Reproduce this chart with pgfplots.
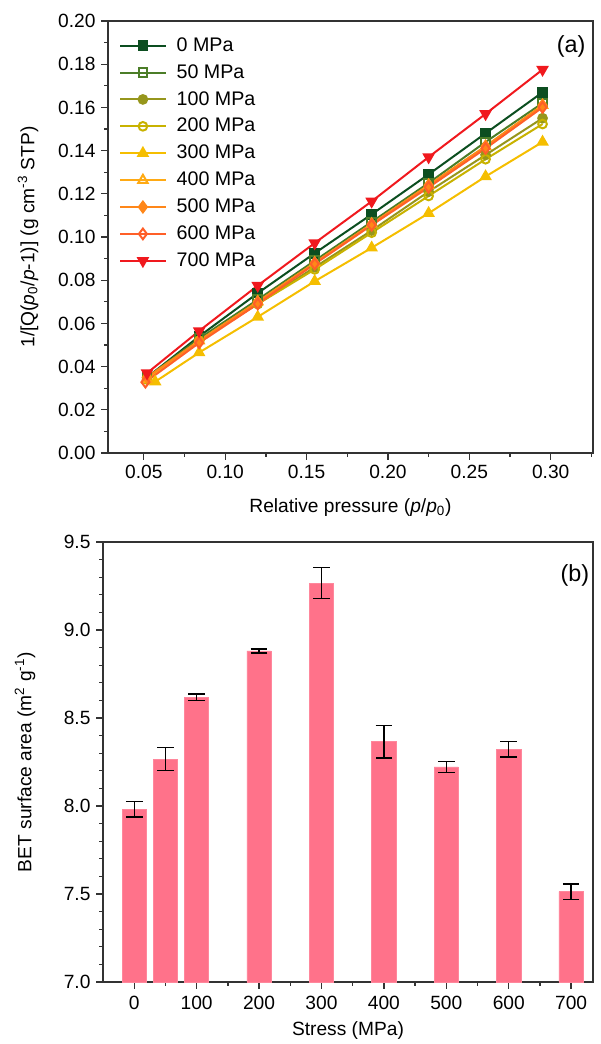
\documentclass[border=0pt]{standalone}
\usepackage{pgfplots}
\pgfplotsset{compat=1.18}
\usepackage{fontspec}
\setmainfont{Liberation Sans}

\definecolor{c0}{RGB}{12,78,32}
\definecolor{c50}{RGB}{75,125,40}
\definecolor{c100}{RGB}{150,150,28}
\definecolor{c200}{RGB}{200,178,0}
\definecolor{c300}{RGB}{245,190,0}
\definecolor{c400}{RGB}{255,170,20}
\definecolor{c500}{RGB}{255,135,25}
\definecolor{c600}{RGB}{255,95,40}
\definecolor{c700}{RGB}{240,25,30}
\definecolor{barpink}{RGB}{255,114,138}

\pgfplotsset{
  panel/.style={
    scale only axis,
    axis line style={line width=0.8pt, black!80},
    tick style={black!80, line width=0.8pt},
    tick align=outside,
    tick pos=left,
    major tick length=4pt,
    minor tick length=2.2pt,
    /pgf/number format/assume math mode=true,
    tick label style={font=\fontsize{11.5}{13}\selectfont},
    label style={font=\fontsize{11.5}{13}\selectfont},
  },
  ser/.style={line width=1.2pt, mark size=2.6pt, mark options={solid}},
}

\begin{document}
\begin{tikzpicture}
  \useasboundingbox (0,0) rectangle (360.6pt,-626.4pt);
  \clip (0,0) rectangle (360.6pt,-626.4pt);

  % (a) BET plots
  \begin{axis}[
      panel,
      at={(64.8pt,-271.8pt)}, anchor=south west,
      width=291pt, height=259.2pt,
      xmin=0.028, xmax=0.326,
      ymin=0, ymax=0.20,
      xtick={0.05,0.10,...,0.30},
      minor xtick={0.025,0.075,...,0.325},
      ytick={0,0.02,...,0.201},
      minor ytick={0.01,0.03,...,0.19},
      xticklabel style={/pgf/number format/.cd, fixed, fixed zerofill, precision=2},
      yticklabel style={/pgf/number format/.cd, fixed, fixed zerofill, precision=2},
      xlabel={Relative pressure (\textit{p}/\textit{p}\textsubscript{0})},
      ylabel={1/[Q(\textit{p}\textsubscript{0}/\textit{p}-1)] (g cm\textsuperscript{-3} STP)},
      xlabel style={at={(axis description cs:0.5,-0.127)}, anchor=center},
      ylabel style={at={(axis description cs:-0.165,0.5)}, anchor=center},
      legend style={at={(0.012,0.978)}, anchor=north west, draw=none, fill=none,
        font=\fontsize{11.8}{12.5}\selectfont, row sep=2.4pt,
        /tikz/every odd column/.append style={column sep=4pt}},
      legend cell align=left,
      legend image code/.code={%
        \draw[mark repeat=2,mark phase=2,#1] plot coordinates {(0cm,0cm) (0.48cm,0cm) (0.96cm,0cm)};},
    ]
    \addplot[ser, color=c0, mark=square*] coordinates {
      (0.052,0.035) (0.084,0.054) (0.120,0.074) (0.155,0.0925) (0.190,0.1105) (0.225,0.129) (0.260,0.148) (0.295,0.167)};
    \addplot[ser, color=c50, mark=square, mark options={fill=white}] coordinates {
      (0.052,0.035) (0.084,0.053) (0.120,0.071) (0.155,0.089) (0.190,0.107) (0.225,0.125) (0.260,0.144) (0.295,0.162)};
    \addplot[ser, color=c100, mark=*] coordinates {
      (0.052,0.035) (0.084,0.052) (0.120,0.069) (0.155,0.086) (0.190,0.103) (0.225,0.121) (0.260,0.138) (0.295,0.155)};
    \addplot[ser, color=c200, mark=o, mark options={fill=white}] coordinates {
      (0.052,0.034) (0.084,0.052) (0.120,0.069) (0.155,0.085) (0.190,0.102) (0.225,0.119) (0.260,0.136) (0.295,0.1523)};
    \addplot[ser, color=c300, mark=triangle*, mark size=3.2pt] coordinates {
      (0.057,0.033) (0.084,0.0465) (0.120,0.063) (0.155,0.0795) (0.190,0.095) (0.225,0.111) (0.260,0.128) (0.295,0.144)};
    \addplot[ser, color=c400, mark=triangle, mark size=3.2pt, mark options={fill=white}] coordinates {
      (0.052,0.034) (0.084,0.052) (0.120,0.070) (0.155,0.088) (0.190,0.106) (0.225,0.124) (0.260,0.142) (0.295,0.161)};
    \addplot[ser, color=c500, mark=diamond*, mark size=3.2pt] coordinates {
      (0.052,0.035) (0.084,0.052) (0.120,0.070) (0.155,0.088) (0.190,0.106) (0.225,0.124) (0.260,0.142) (0.295,0.161)};
    \addplot[ser, color=c600, mark=diamond, mark size=3.2pt, mark options={fill=white}] coordinates {
      (0.051,0.0328) (0.084,0.051) (0.120,0.069) (0.155,0.0875) (0.190,0.1055) (0.225,0.123) (0.260,0.141) (0.295,0.160)};
    \addplot[ser, color=c700, mark=triangle*, mark size=3.2pt, mark options={rotate=180}] coordinates {
      (0.052,0.037) (0.084,0.0565) (0.120,0.0775) (0.155,0.0972) (0.190,0.1165) (0.225,0.137) (0.260,0.157) (0.295,0.1775)};
    \legend{0 MPa,50 MPa,100 MPa,200 MPa,300 MPa,400 MPa,500 MPa,600 MPa,700 MPa}
    \node[font=\fontsize{14}{16}\selectfont] at (rel axis cs:0.955,0.94) {(a)};
  \end{axis}

  % (b) BET surface area
  \begin{axis}[
      panel,
      at={(61.8pt,-589.2pt)}, anchor=south west,
      width=294pt, height=264pt,
      xmin=-50, xmax=735,
      ymin=7, ymax=9.5,
      xtick={0,100,...,700},
      minor xtick={50,150,...,650},
      ytick={7,7.5,...,9.5},
      minor ytick={7.1,7.2,7.3,7.4,7.6,7.7,7.8,7.9,8.1,8.2,8.3,8.4,8.6,8.7,8.8,8.9,9.1,9.2,9.3,9.4},
      yticklabel style={/pgf/number format/.cd, fixed, fixed zerofill, precision=1},
      xticklabel style={yshift=-1pt},
      xlabel={Stress (MPa)},
      ylabel={BET surface area (m\textsuperscript{2} g\textsuperscript{-1})},
      xlabel style={at={(axis description cs:0.5,-0.11)}, anchor=center},
      ylabel style={at={(axis description cs:-0.159,0.5)}, anchor=center},
      ybar, bar width=39, bar shift=0pt,
    ]
    \addplot[fill=barpink, draw=barpink!85!white, line width=0.4pt,
      error bars/.cd, y dir=both, y explicit,
      error bar style={black, line width=0.8pt},
      error mark options={black, line width=0.8pt, rotate=90, mark size=5pt}]
      coordinates {
      (0,7.981) +- (0,0.043)
      (50,8.267) +- (0,0.067)
      (100,8.618) +- (0,0.019)
      (200,8.881) +- (0,0.012)
      (300,9.267) +- (0,0.089)
      (400,8.366) +- (0,0.093)
      (500,8.222) +- (0,0.030)
      (600,8.322) +- (0,0.043)
      (700,7.513) +- (0,0.044)
    };
    \node[font=\fontsize{14}{16}\selectfont] at (rel axis cs:0.963,0.925) {(b)};
  \end{axis}
\end{tikzpicture}
\end{document}
